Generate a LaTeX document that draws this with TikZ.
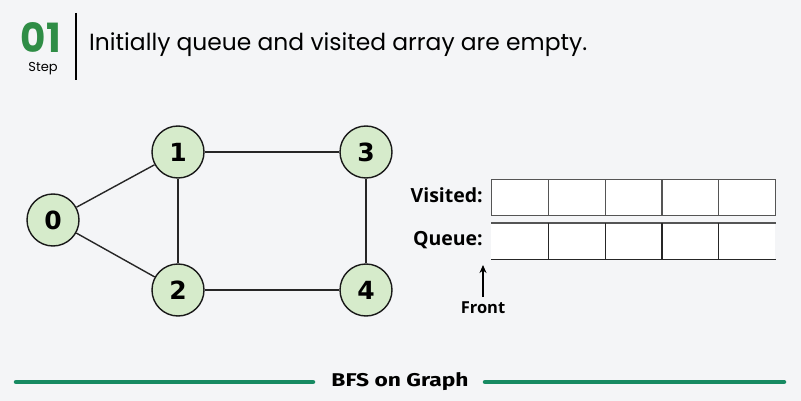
\documentclass[tikz,border=0pt]{standalone}
\usepackage{fontspec}
\setmainfont{Open Sans}
\newfontfamily\popfont{Poppins}
\newfontfamily\numfont{DejaVu Sans}
\newfontfamily\firafont{Fira Sans}
\usetikzlibrary{arrows.meta}
\definecolor{bgc}{HTML}{F4F5F7}
\definecolor{gfg}{HTML}{2F8D46}
\definecolor{nodefill}{HTML}{D6EBCB}
\definecolor{barc}{HTML}{178A62}
\definecolor{cellc}{HTML}{555555}
\tikzset{
  vtx/.style={circle, draw=black!90, line width=1.4pt, fill=nodefill, minimum size=52pt, inner sep=0pt, font=\numfont\bfseries\fontsize{25}{25}\selectfont},
  edge/.style={draw=black!85, line width=1.4pt},
  cell/.style={draw=cellc, line width=1.2pt, fill=white, minimum width=57pt, minimum height=36pt, inner sep=0pt, anchor=north west},
  qcell/.style={fill=white, minimum width=57pt, minimum height=36pt, inner sep=0pt, anchor=north west},
  lbl/.style={font=\bfseries\fontsize{19.5}{19.5}\selectfont, anchor=east, inner sep=0pt},
  bar/.style={line width=4.5pt, line cap=round, draw=barc}
}
\begin{document}
\begin{tikzpicture}[x=1pt,y=-1pt]
\fill[bgc] (0,0) rectangle (801,401);
\useasboundingbox (0,0) rectangle (801,401);
% header
\node[inner sep=0pt, text=gfg] (num) at (41,37.5) {\resizebox{40pt}{30pt}{\popfont\bfseries 01}};
\node[inner sep=0pt, anchor=base] (step) at (43,72) {\popfont\fontsize{13}{13}\selectfont Step};
\draw[line width=1.5pt] (76,13) -- (76,80);
\node[inner sep=0pt, anchor=west] (title) at (89,45) {\resizebox{498pt}{!}{\popfont Initially queue and visited array are empty.}};
% graph
\node[vtx] (n0) at (53,220) {0};
\node[vtx] (n1) at (178,152) {1};
\node[vtx] (n2) at (178,290) {2};
\node[vtx] (n3) at (366,152) {3};
\node[vtx] (n4) at (366,290) {4};
\draw[edge] (n0) -- (n1);
\draw[edge] (n0) -- (n2);
\draw[edge] (n1) -- (n3);
\draw[edge] (n1) -- (n2);
\draw[edge] (n3) -- (n4);
\draw[edge] (n2) -- (n4);
% visited
\node[lbl] (vl) at (483,195) {Visited:};
\foreach \i in {0,...,4} {
  \node[cell] (v\i) at ({491+56.8*\i},179) {};
}
% queue
\node[lbl] (ql) at (483,240) {Queue:};
\foreach \i in {0,...,4} {
  \node[qcell] (q\i) at ({491+56.8*\i},223) {};
}
\draw[cellc, line width=1.2pt] (q0.north west) -- (q4.north east);
\draw[black!85, line width=1.4pt] (q0.south west) -- (q4.south east);
\foreach \i in {0,...,3} {
  \draw[black!85, line width=1.2pt] (q\i.north east) -- (q\i.south east);
}
% front
\node[inner sep=0pt] (front) at (483,308) {\fontsize{16.5}{16.5}\selectfont\bfseries Front};
\coordinate (ftip) at (483,265);
\draw[line width=1.3pt, -{Stealth[length=8pt,width=7pt]}] (483,297) -- (ftip);
% bottom
\node[inner sep=0pt] (bfs) at (400,382) {\resizebox{137pt}{14pt}{\firafont\bfseries BFS on Graph}};
\coordinate (l1) at (16,382);
\coordinate (l2) at (313,382);
\coordinate (r1) at (485,382);
\coordinate (r2) at (784,382);
\draw[bar] (l1) -- (l2);
\draw[bar] (r1) -- (r2);
\end{tikzpicture}
\end{document}
